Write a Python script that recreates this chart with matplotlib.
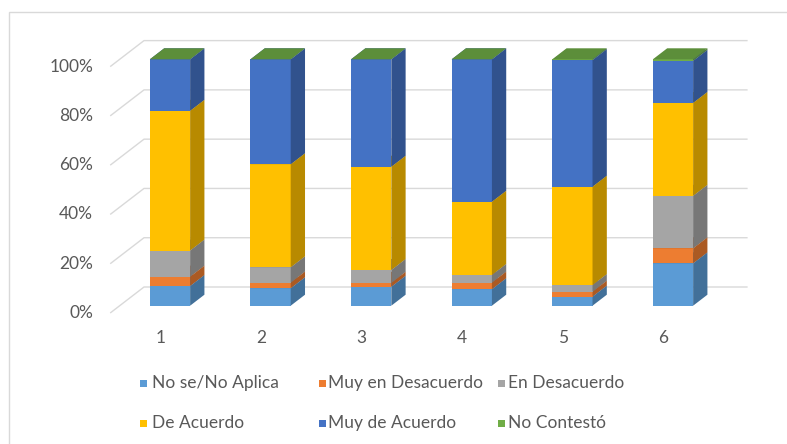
import numpy as np
import matplotlib.pyplot as plt
from matplotlib.patches import Polygon, Rectangle

categories = ["1", "2", "3", "4", "5", "6"]
series_names = ["No se/No Aplica", "Muy en Desacuerdo", "En Desacuerdo",
                "De Acuerdo", "Muy de Acuerdo", "No Contestó"]
no_se = [8.0, 7.1, 7.7, 6.7, 3.7, 17.2]
muy_desacuerdo = [3.8, 2.3, 1.6, 2.7, 2.0, 6.1]
desacuerdo = [10.6, 6.2, 5.2, 3.1, 2.7, 21.3]
de_acuerdo = [56.7, 41.8, 41.9, 29.7, 39.9, 37.7]
muy_de_acuerdo = [20.9, 42.6, 43.6, 57.8, 51.4, 17.1]
no_contesto = [0.0, 0.0, 0.0, 0.0, 0.3, 0.6]
series = [no_se, muy_desacuerdo, desacuerdo, de_acuerdo, muy_de_acuerdo, no_contesto]
yticks = [0, 20, 40, 60, 80, 100]

colors = ["#5B9BD5", "#ED7D31", "#A5A5A5", "#FFC000", "#4472C4", "#70AD47"]
txt_col = "#595959"
fs = 12.5

W, H = 787, 444
fig = plt.figure(figsize=(W / 100, H / 100), dpi=100)
ax = fig.add_axes([0, 0, 1, 1])
# one category = 100.6 px, 1% = 2.464 px
px_x = 100.6
px_y = 2.464
ax.set_xlim(1 - 170 / px_x, 1 + (W - 170) / px_x)
ax.set_ylim(-(H - 305.7) / px_y, 305.7 / px_y)
ax.axis("off")

# oblique depth: per pixel of depth shift right 1.3 px and up 1 px
kx = 1.3 / px_x
ky = 1.0 / px_y


def proj(x, y, z):
    return (x + z * kx, y + z * ky)


def shade(c, f):
    c = np.array(plt.matplotlib.colors.to_rgb(c))
    return tuple(np.clip(c * f, 0, 1))


grid_col = "#D9D9D9"
z_front, z_back = -7.3, 18.7
x_left, x_right = 0.5, 6.5
for t in yticks:
    p0 = proj(x_left, t, z_front)
    p1 = proj(x_left, t, z_back)
    p2 = proj(x_right, t, z_back)
    ax.plot([p0[0], p1[0], p2[0]], [p0[1], p1[1], p2[1]],
            color=grid_col, lw=1.0, zorder=1, solid_capstyle="butt")
    ax.text(p0[0] - 17 / px_x, p0[1], f"{t}%", ha="right", va="center",
            fontsize=fs, color=txt_col, family="Lato")

for i, lab in enumerate(categories):
    p = proj(i + 1, 0, z_front)
    ax.text(p[0], p[1] - 25 / px_y, lab, ha="center", va="center",
            fontsize=fs, color=txt_col, family="Lato")

bw = 0.4
depth = 11
for i in range(len(categories)):
    c = i + 1
    x0, x1 = c - bw / 2, c + bw / 2
    bottom = 0.0
    for s, col in zip(series, colors):
        v = s[i]
        top = bottom + v
        front = Rectangle((x0, bottom), bw, v, facecolor=col, edgecolor="none", zorder=3)
        side = Polygon([proj(x1, bottom, 0), proj(x1, bottom, depth),
                        proj(x1, top, depth), proj(x1, top, 0)],
                       closed=True, facecolor=shade(col, 0.72), edgecolor="none", zorder=3)
        lid = Polygon([proj(x0, top, 0), proj(x1, top, 0),
                       proj(x1, top, depth), proj(x0, top, depth)],
                      closed=True, facecolor=shade(col, 0.82), edgecolor="none", zorder=3)
        ax.add_patch(front)
        ax.add_patch(side)
        ax.add_patch(lid)
        bottom = top

# legend laid out in two rows of three
leg_box = [140, 319, 498]
leg_txt = [152, 328, 508]
leg_rows = [383, 423]
for k, (name, col) in enumerate(zip(series_names, colors)):
    ly = leg_rows[k // 3]
    fig.add_artist(Rectangle((leg_box[k % 3] / W, 1 - (ly + 3.5) / H), 7 / W, 7 / H,
                             facecolor=col, edgecolor="none", transform=fig.transFigure))
    fig.text(leg_txt[k % 3] / W, 1 - ly / H, name, ha="left", va="center",
             fontsize=fs, color=txt_col, family="Lato")

# chart area border
fig.add_artist(Rectangle((9 / W, -0.05), 1.1, 1 - 12 / H + 0.05, facecolor="none",
                         edgecolor="#D9D9D9", lw=1.0, transform=fig.transFigure))

fig.savefig("out.png", dpi=100)
